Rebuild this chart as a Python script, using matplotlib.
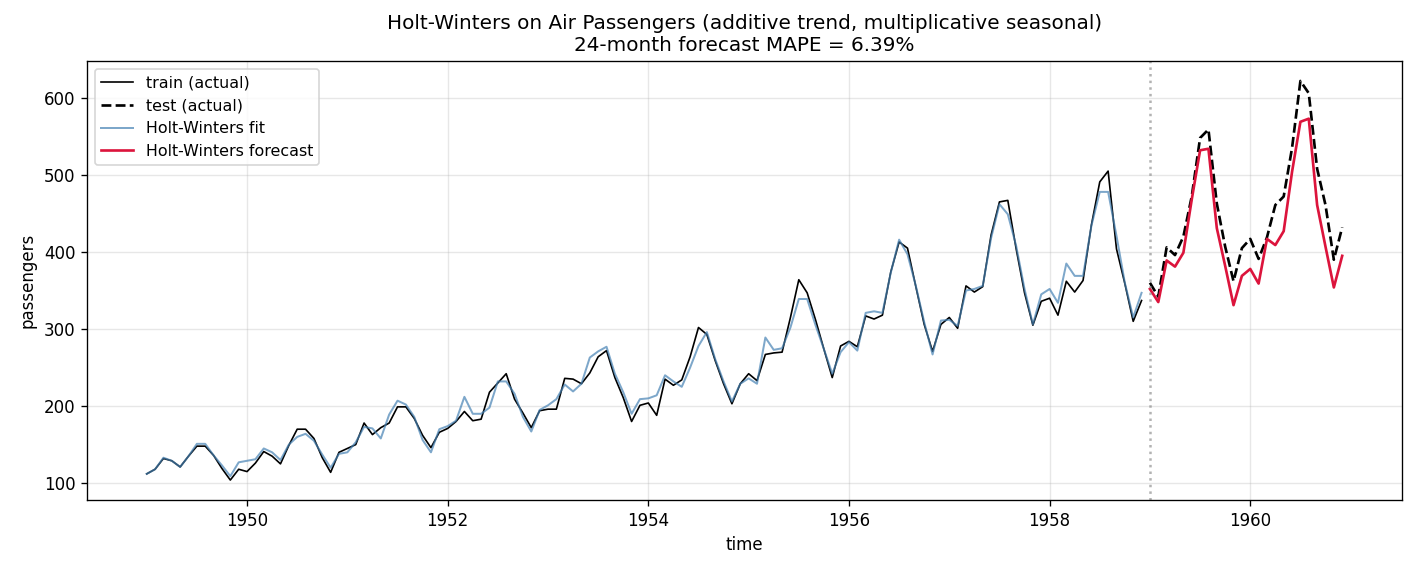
import numpy as np
import matplotlib
matplotlib.use("Agg")
import matplotlib.pyplot as plt

start_year = 1949
train_actual = [112, 118, 132, 129, 121, 135, 148, 148, 136, 119, 104, 118,
                115, 126, 141, 135, 125, 149, 170, 170, 158, 133, 114, 140,
                145, 150, 178, 163, 172, 178, 199, 199, 184, 162, 146, 166,
                171, 180, 193, 181, 183, 218, 230, 242, 209, 191, 172, 194,
                196, 196, 236, 235, 229, 243, 264, 272, 237, 211, 180, 201,
                204, 188, 235, 227, 234, 264, 302, 293, 259, 229, 203, 229,
                242, 233, 267, 269, 270, 315, 364, 347, 312, 274, 237, 278,
                284, 277, 317, 313, 318, 374, 413, 405, 355, 306, 271, 306,
                315, 301, 356, 348, 355, 422, 465, 467, 404, 347, 305, 336,
                340, 318, 362, 348, 363, 435, 491, 505, 404, 359, 310, 337]
test_actual = [360, 342, 406, 396, 420, 472, 548, 559, 463, 407, 362, 405,
               417, 391, 419, 461, 472, 535, 622, 606, 508, 461, 390, 432]
hw_fit = [112, 118, 133, 129, 121, 135, 151, 151, 136, 123, 109, 127,
          129, 131, 145, 140, 130, 150, 160, 164, 155, 137, 120, 138,
          140, 153, 173, 171, 158, 189, 207, 202, 186, 156, 140, 170,
          174, 181, 212, 190, 190, 198, 232, 232, 216, 186, 167, 195,
          201, 209, 228, 219, 229, 263, 271, 277, 242, 218, 190, 209,
          210, 214, 240, 232, 225, 250, 278, 296, 261, 232, 206, 229,
          236, 229, 289, 273, 275, 302, 339, 339, 305, 274, 242, 270,
          283, 272, 321, 323, 321, 373, 416, 397, 356, 309, 267, 311,
          312, 304, 350, 352, 356, 418, 462, 449, 408, 352, 306, 345,
          352, 334, 385, 369, 369, 434, 478, 478, 421, 360, 315, 347]
hw_forecast = [352, 335, 389, 381, 399, 468, 532, 534, 431, 382, 331, 369,
               378, 359, 417, 409, 427, 504, 569, 573, 461, 407, 354, 395]

t_train = start_year + np.arange(len(train_actual)) / 12
t_test = start_year + (len(train_actual) + np.arange(len(test_actual))) / 12

fig, ax = plt.subplots(figsize=(11.8, 4.75), dpi=120)
fig.subplots_adjust(left=0.0614, right=0.9901, top=0.893, bottom=0.1228)
ax.plot(t_train, train_actual, color="black", lw=1.0, label="train (actual)")
ax.plot(t_test, test_actual, color="black", lw=1.6, ls="--", label="test (actual)")
ax.plot(t_train, hw_fit, color="steelblue", lw=1.2, alpha=0.7, label="Holt-Winters fit")
ax.plot(t_test, hw_forecast, color="crimson", lw=1.6, label="Holt-Winters forecast")
ax.axvline(t_test[0], color="gray", ls=":", alpha=0.6, lw=1.5)
ax.grid(True, alpha=0.3)
ax.set_xlabel("time")
ax.set_ylabel("passengers")
ax.set_title("Holt-Winters on Air Passengers (additive trend, multiplicative seasonal)\n"
             "24-month forecast MAPE = 6.39%")
ax.legend(loc="upper left", fontsize=9.5)
fig.savefig("out.png")
